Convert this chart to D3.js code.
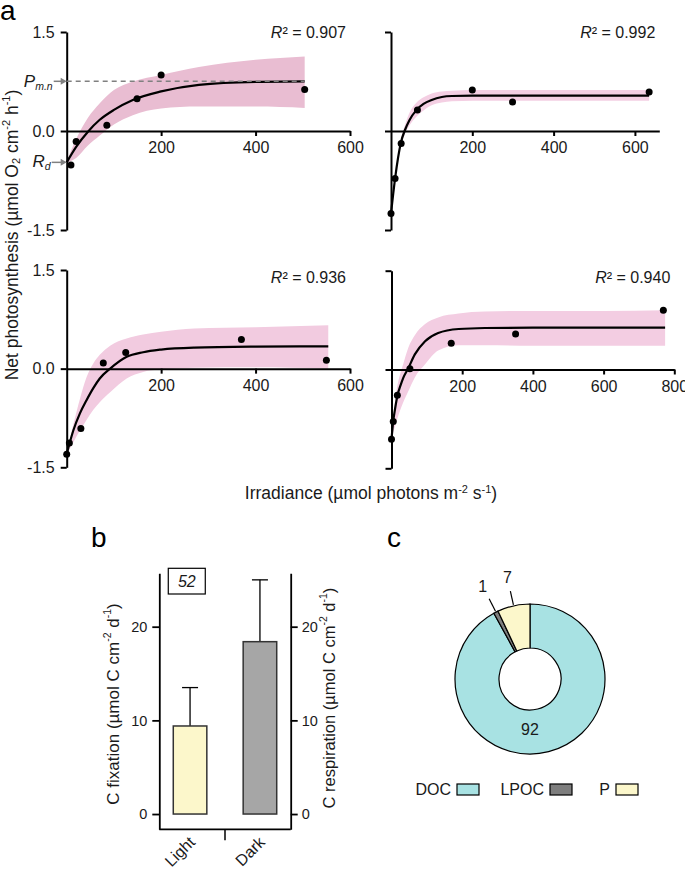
<!DOCTYPE html>
<html>
<head>
<meta charset="utf-8">
<script src="https://cdn.jsdelivr.net/npm/d3@7"></script>
<style>
  body { margin: 0; background: #fff; }
  svg { display: block; font-family: "Liberation Sans", Arial, sans-serif; }
</style>
</head>
<body>
<svg id="chart" width="685" height="874"></svg>
<script>
// ---- panel a : four P-I curves (TL, TR, BL, BR) ----
const r2Labels = ["0.907", "0.992", "0.936", "0.940"];
const irrMax = [600, 660, 600, 800];
const irrTicks = [[200, 400, 600], [200, 400, 600], [200, 400, 600], [200, 400, 600, 800]];
const netPTicks = [-1.5, 0, 1.5];

const obsIrr = [
  [9, 20, 85, 149, 200, 504],
  [0, 10, 25, 65, 200, 299, 635],
  [0, 5.6, 30, 77.5, 125, 370, 550],
  [0, 5, 16.5, 52, 169, 351, 769]
];
const obsNetP = [
  [-0.515, -0.16, 0.086, 0.49, 0.85, 0.63],
  [-1.25, -0.72, -0.19, 0.32, 0.62, 0.44, 0.59],
  [-1.30, -1.13, -0.91, 0.085, 0.245, 0.445, 0.126],
  [-1.06, -0.79, -0.39, 0.01, 0.40, 0.54, 0.90]
];

// fitted curve + confidence band
const fitIrr = [
  [0, 20, 45, 70, 100, 140, 200, 280, 400, 504],
  [0, 10, 24.6, 34.4, 45, 63, 80, 100, 125, 150, 200, 300, 450, 635],
  [0, 14, 28, 42, 56, 70, 92, 127, 162, 200, 270, 400, 554],
  [0, 5, 10, 17.5, 25, 33, 47.5, 66, 95, 132, 190, 264, 400, 600, 774]
];
const fitNetP = [
  [-0.475, -0.24, -0.01, 0.17, 0.32, 0.47, 0.60, 0.70, 0.745, 0.753],
  [-1.25, -0.72, -0.17, 0.015, 0.16, 0.32, 0.41, 0.47, 0.515, 0.53, 0.535, 0.535, 0.535, 0.535],
  [-1.30, -0.94, -0.68, -0.48, -0.30, -0.15, 0.0, 0.18, 0.25, 0.29, 0.32, 0.335, 0.34],
  [-1.06, -0.78, -0.60, -0.38, -0.25, -0.13, 0.02, 0.23, 0.43, 0.555, 0.615, 0.63, 0.635, 0.635, 0.635]
];
const fitUpper = [
  [-0.46, -0.12, 0.20, 0.42, 0.62, 0.75, 0.85, 0.97, 1.08, 1.13],
  [-1.25, -0.70, -0.12, 0.09, 0.27, 0.43, 0.51, 0.57, 0.60, 0.61, 0.62, 0.62, 0.62, 0.62],
  [-1.28, -0.85, -0.46, -0.13, 0.076, 0.21, 0.35, 0.46, 0.52, 0.56, 0.61, 0.63, 0.66],
  [-1.06, -0.75, -0.48, -0.22, -0.06, 0.08, 0.33, 0.52, 0.69, 0.79, 0.85, 0.88, 0.89, 0.89, 0.90]
];
const fitLower = [
  [-0.48, -0.41, -0.22, -0.07, 0.10, 0.24, 0.34, 0.37, 0.37, 0.35],
  [-1.25, -0.74, -0.22, -0.04, 0.08, 0.22, 0.31, 0.39, 0.43, 0.45, 0.46, 0.46, 0.46, 0.46],
  [-1.31, -1.12, -0.94, -0.78, -0.63, -0.51, -0.36, -0.15, -0.05, -0.01, 0.015, 0.02, 0.0],
  [-1.06, -0.95, -0.86, -0.73, -0.61, -0.50, -0.33, -0.12, 0.08, 0.29, 0.37, 0.37, 0.36, 0.36, 0.36]
];
const pmn = 0.753;   // P m.n marked on first curve
const rd = -0.475;   // R d marked on first curve

// ---- panel b ----
const bCategories = ["Light", "Dark"];
const bMeans = [9.4, 18.4];
const bErrors = [4.1, 6.6];
const bTicks = [0, 10, 20];
const bBoxLabel = "52";

// ---- panel c ----
const cCategories = ["DOC", "LPOC", "P"];
const cValues = [92, 1, 7];

// layout
const frames = [
  { x: [66.7, 350], y: [230, 32], labels: true, r2y: 38, band: "#e9bdd2" },
  { x: [391, 659.3], y: [230, 32], labels: false, r2y: 38, band: "#f4cfe3" },
  { x: [66.7, 350], y: [467.3, 270], labels: true, r2y: 283, band: "#f2cbe0" },
  { x: [391.5, 674.3], y: [468.3, 270.7], labels: false, r2y: 283, band: "#f3cde2" }
];

const svg = d3.select("#chart");
const FS = 16;
const TXT = "#1a1a1a";

function styleAxis(g, w, fs) {
  g.selectAll("path, line").attr("stroke", "#000").attr("stroke-width", w);
  g.selectAll("text").attr("font-size", fs || FS).attr("fill", TXT)
    .attr("font-family", "Liberation Sans, Arial, sans-serif");
}

frames.forEach((f, i) => {
  const x = d3.scaleLinear().domain([0, irrMax[i]]).range(f.x);
  const y = d3.scaleLinear().domain([-1.5, 1.5]).range(f.y);
  const g = svg.append("g");
  const idx = d3.range(fitIrr[i].length);

  // confidence band
  g.append("path")
    .attr("d", d3.area()
      .curve(d3.curveMonotoneX)
      .x(k => x(fitIrr[i][k]))
      .y0(k => y(fitLower[i][k]))
      .y1(k => y(fitUpper[i][k]))(idx))
    .attr("fill", f.band);

  // axes
  const ya = g.append("g")
    .attr("transform", `translate(${f.x[0]},0)`)
    .call(d3.axisLeft(y).tickValues(netPTicks).tickSizeInner(6).tickSizeOuter(0).tickPadding(6)
      .tickFormat(d => f.labels ? d.toFixed(1) : ""));
  styleAxis(ya, 2);

  const xa = g.append("g")
    .attr("transform", `translate(0,${y(0)})`)
    .call(d3.axisBottom(x).tickValues(irrTicks[i]).tickSizeInner(5).tickSizeOuter(0).tickPadding(6));
  styleAxis(xa, 2);

  // fitted curve
  g.append("path")
    .attr("d", d3.line()
      .curve(d3.curveMonotoneX)
      .x(k => x(fitIrr[i][k]))
      .y(k => y(fitNetP[i][k]))(idx))
    .attr("fill", "none")
    .attr("stroke", "#000")
    .attr("stroke-width", 2.2);

  // observations
  g.selectAll("circle")
    .data(obsIrr[i])
    .enter().append("circle")
    .attr("cx", d => x(d))
    .attr("cy", (d, k) => y(obsNetP[i][k]))
    .attr("r", 3.5)
    .attr("fill", "#000");

  // R2
  const r2 = g.append("text")
    .attr("x", f.x[1] - 4)
    .attr("y", f.r2y)
    .attr("text-anchor", "end")
    .attr("font-size", FS)
    .attr("fill", TXT);
  r2.append("tspan").attr("font-style", "italic").text("R");
  r2.append("tspan").text("\u00b2 = " + r2Labels[i]);

  // P m.n and R d markers on the first curve
  if (i === 0) {
    const grey = "#808080";
    g.append("line")
      .attr("x1", x(0)).attr("x2", x(fitIrr[0][fitIrr[0].length - 1]))
      .attr("y1", y(pmn)).attr("y2", y(pmn))
      .attr("stroke", grey).attr("stroke-width", 1.5)
      .attr("stroke-dasharray", "5,4");

    [pmn, rd].forEach((v, k) => {
      const yy = y(v);
      const x0 = x(0);
      g.append("line")
        .attr("x1", k === 0 ? x0 - 13 : x0 - 15).attr("x2", x0 - 4)
        .attr("y1", yy).attr("y2", yy)
        .attr("stroke", grey).attr("stroke-width", 1.5);
      g.append("path")
        .attr("d", `M${x0},${yy}L${x0 - 6},${yy - 3.5}L${x0 - 6},${yy + 3.5}Z`)
        .attr("fill", grey);
    });

    const tp = g.append("text")
      .attr("x", x(0) - 14).attr("y", y(pmn) + 6)
      .attr("text-anchor", "end")
      .attr("font-size", 17).attr("font-style", "italic").attr("fill", TXT);
    tp.append("tspan").text("P");
    tp.append("tspan").attr("font-size", 10.5).attr("dy", 3).text("m.n");

    const tr = g.append("text")
      .attr("x", x(0) - 16).attr("y", y(rd) + 5)
      .attr("text-anchor", "end")
      .attr("font-size", 17).attr("font-style", "italic").attr("fill", TXT);
    tr.append("tspan").text("R");
    tr.append("tspan").attr("font-size", 10.5).attr("dy", 3).text("d");
  }
});

// helper for labels with super/subscripts: parts = [[text, shift]]
function richText(sel, parts, small) {
  let cur = 0;
  parts.forEach(([t, s]) => {
    const sp = sel.append("tspan").attr("dy", s - cur).text(t);
    if (s !== 0) sp.attr("font-size", small);
    cur = s;
  });
}

// panel a axis titles
const yTitle = svg.append("text")
  .attr("transform", "translate(12,235) rotate(-90)")
  .attr("text-anchor", "middle").attr("dominant-baseline", "central")
  .attr("font-size", 17.5).attr("fill", TXT);
richText(yTitle, [["Net photosynthesis (\u00b5mol O", 0], ["2", 3.5], [" cm", 0], ["-2", -6.5], [" h", 0], ["-1", -6.5], [")", 0]], 11);

const xTitle = svg.append("text")
  .attr("x", 371).attr("y", 499)
  .attr("text-anchor", "middle")
  .attr("font-size", 17.5).attr("fill", TXT);
richText(xTitle, [["Irradiance (\u00b5mol photons m", 0], ["-2", -6.5], [" s", 0], ["-1", -6.5], [")", 0]], 11);

// ---- panel b ----
const bLeft = 159.3, bRight = 290.7;
const yb = d3.scaleLinear().domain([-1.63, 25.7]).range([829.3, 573.3]);
const xb = d3.scaleBand().domain(bCategories).range([bLeft, bRight]).paddingInner(0.52).paddingOuter(0.2);
const bFill = ["#fcf7cb", "#a6a6a6"];

const gb = svg.append("g");
const la = gb.append("g").attr("transform", `translate(${bLeft},0)`)
  .call(d3.axisLeft(yb).tickValues(bTicks).tickSizeInner(7).tickSizeOuter(0).tickPadding(5));
styleAxis(la, 1.8, 14.5);
const ra = gb.append("g").attr("transform", `translate(${bRight},0)`)
  .call(d3.axisRight(yb).tickValues(bTicks).tickSizeInner(7).tickSizeOuter(0).tickPadding(4));
styleAxis(ra, 1.8, 14.5);

gb.append("line")
  .attr("x1", bLeft).attr("x2", bRight)
  .attr("y1", yb.range()[0]).attr("y2", yb.range()[0])
  .attr("stroke", "#000").attr("stroke-width", 1.8);
gb.append("line")
  .attr("x1", (xb("Light") + xb.bandwidth() + xb("Dark")) / 2)
  .attr("x2", (xb("Light") + xb.bandwidth() + xb("Dark")) / 2)
  .attr("y1", yb.range()[0]).attr("y2", yb.range()[0] + 11)
  .attr("stroke", "#000").attr("stroke-width", 1.5);

bCategories.forEach((c, k) => {
  const cx = xb(c) + xb.bandwidth() / 2;
  gb.append("line")
    .attr("x1", cx).attr("x2", cx)
    .attr("y1", yb(bMeans[k])).attr("y2", yb(bMeans[k] + bErrors[k]))
    .attr("stroke", "#000").attr("stroke-width", 1.3);
  gb.append("line")
    .attr("x1", cx - 8).attr("x2", cx + 8)
    .attr("y1", yb(bMeans[k] + bErrors[k])).attr("y2", yb(bMeans[k] + bErrors[k]))
    .attr("stroke", "#000").attr("stroke-width", 1.3);
  gb.append("text")
    .attr("transform", `translate(${cx + 6},${yb.range()[0] + 14}) rotate(-45)`)
    .attr("text-anchor", "end")
    .attr("font-size", FS).attr("fill", TXT)
    .text(c);
});

gb.selectAll("rect.bar")
  .data(bCategories)
  .enter().append("rect")
  .attr("class", "bar")
  .attr("x", d => xb(d))
  .attr("width", xb.bandwidth())
  .attr("y", (d, k) => yb(bMeans[k]))
  .attr("height", (d, k) => yb(0) - yb(bMeans[k]))
  .attr("fill", (d, k) => bFill[k])
  .attr("stroke", "#333").attr("stroke-width", 1.5);

// boxed annotation
gb.append("rect")
  .attr("x", xb("Light") - 5).attr("y", yb.range()[1] - 5)
  .attr("width", 37).attr("height", 25.7)
  .attr("fill", "#fff").attr("stroke", "#000").attr("stroke-width", 1.2);
gb.append("text")
  .attr("x", xb("Light") - 5 + 18.5).attr("y", yb.range()[1] + 13.5)
  .attr("text-anchor", "middle").attr("font-style", "italic")
  .attr("font-size", FS).attr("fill", TXT)
  .text(bBoxLabel);

const bl = gb.append("text")
  .attr("transform", "translate(113,704) rotate(-90)")
  .attr("text-anchor", "middle").attr("dominant-baseline", "central")
  .attr("font-size", 17).attr("fill", TXT);
richText(bl, [["C fixation (\u00b5mol C cm", 0], ["-2", -6.5], [" d", 0], ["-1", -6.5], [")", 0]], 10.5);
const br = gb.append("text")
  .attr("transform", "translate(329,698) rotate(-90)")
  .attr("text-anchor", "middle").attr("dominant-baseline", "central")
  .attr("font-size", 16.5).attr("fill", TXT);
richText(br, [["C respiration (\u00b5mol C cm", 0], ["-2", -6], [" d", 0], ["-1", -6], [")", 0]], 10.5);

// ---- panel c ----
const cColors = d3.scaleOrdinal().domain(cCategories).range(["#a8e2e3", "#7e7e7e", "#fcf7cb"]);
const cx0 = 530, cy0 = 679, rOut = 75, rIn = 31;
const pie = d3.pie().sort(null).value(d => d);
const arcs = pie(cValues);
const arc = d3.arc().innerRadius(rIn).outerRadius(rOut);
const gc = svg.append("g").attr("transform", `translate(${cx0},${cy0})`);

gc.selectAll("path")
  .data(arcs)
  .enter().append("path")
  .attr("d", arc)
  .attr("fill", (d, k) => cColors(cCategories[k]))
  .attr("stroke", "#000").attr("stroke-width", 1.2);

arcs.forEach((a, k) => {
  const mid = (a.startAngle + a.endAngle) / 2;
  if (a.value > 50) {
    const r = (rIn + rOut) / 2;
    gc.append("text")
      .attr("x", r * Math.sin(Math.PI)).attr("y", -r * Math.cos(Math.PI) - 3)
      .attr("text-anchor", "middle").attr("dominant-baseline", "central")
      .attr("font-size", FS).attr("fill", TXT)
      .text(a.value);
  } else {
    gc.append("line")
      .attr("x1", 76 * Math.sin(mid)).attr("y1", -76 * Math.cos(mid))
      .attr("x2", 90 * Math.sin(mid)).attr("y2", -90 * Math.cos(mid))
      .attr("stroke", "#000").attr("stroke-width", 1.2);
    gc.append("text")
      .attr("x", 104 * Math.sin(mid)).attr("y", -104 * Math.cos(mid))
      .attr("text-anchor", "middle").attr("dominant-baseline", "central")
      .attr("font-size", FS).attr("fill", TXT)
      .text(a.value);
  }
});

const legendX = [457, 550, 616];
const gl = svg.append("g");
cCategories.forEach((c, k) => {
  gl.append("text")
    .attr("x", legendX[k] - 6).attr("y", 795)
    .attr("text-anchor", "end")
    .attr("font-size", FS).attr("fill", TXT)
    .text(c);
  gl.append("rect")
    .attr("x", legendX[k]).attr("y", 784)
    .attr("width", 22).attr("height", 11)
    .attr("fill", cColors(c)).attr("stroke", "#000").attr("stroke-width", 1.2);
});

// panel letters
[["a", 0, 20], ["b", 91, 547], ["c", 387, 547]].forEach(([t, x, y]) => {
  svg.append("text").attr("x", x).attr("y", y)
    .attr("font-size", 28).attr("fill", "#000").text(t);
});
</script>
</body>
</html>
